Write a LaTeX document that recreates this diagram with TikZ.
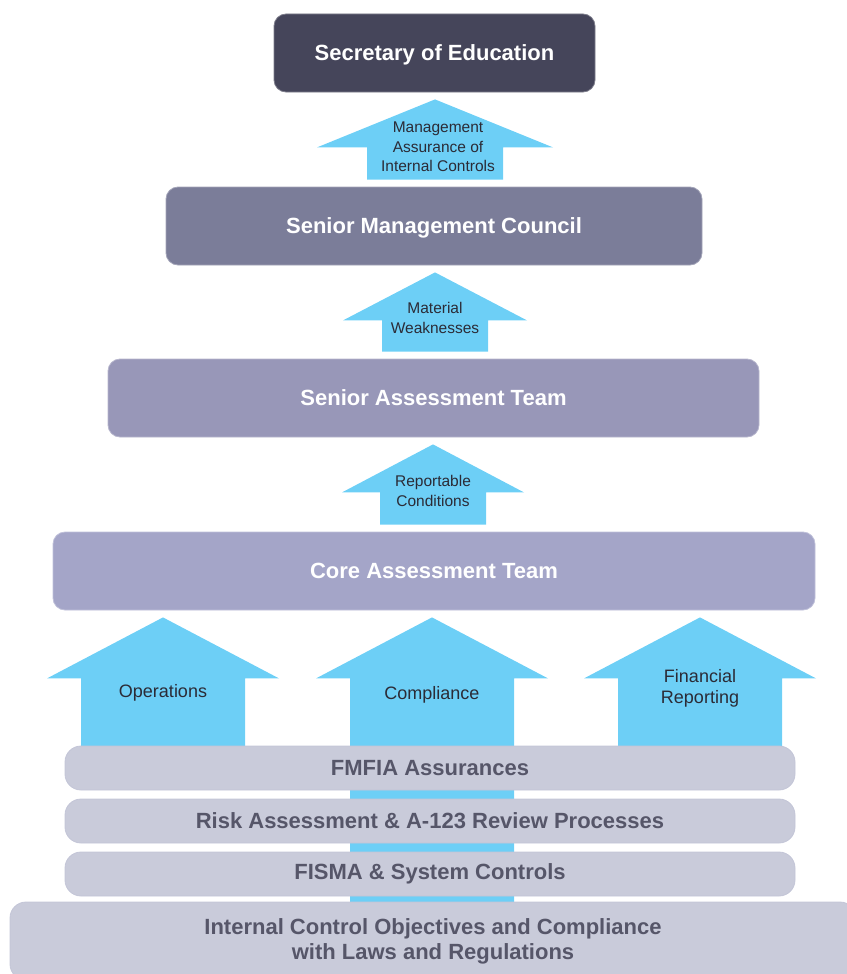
\documentclass[tikz,border=0pt]{standalone}
\usepackage{fontspec}
\setmainfont{Liberation Sans}
\usetikzlibrary{calc}

\definecolor{secfill}{HTML}{45455A}
\definecolor{smcfill}{HTML}{7B7D99}
\definecolor{satfill}{HTML}{9897B8}
\definecolor{catfill}{HTML}{A4A5C8}
\definecolor{barfill}{HTML}{C9CBDA}
\definecolor{bartext}{HTML}{565669}
\definecolor{flowfill}{HTML}{6DCFF6}
\definecolor{labeltext}{HTML}{2B2B36}

\pgfdeclarelayer{background}
\pgfsetlayers{background,main}

\tikzset{
  levelbox/.style={fill=#1, draw=#1!70!white, line width=0.8pt, rounded corners=12pt,
    minimum height=78pt, inner sep=0pt, text=white, text height=16pt, text depth=2pt,
    font=\bfseries\fontsize{22}{26}\selectfont},
  basebar/.style={fill=barfill, draw=barfill!85!catfill, line width=0.8pt, rounded corners=16pt,
    minimum height=44pt, inner sep=0pt, text=bartext, align=center,
    font=\bfseries\fontsize{22}{25}\selectfont},
  flowlabel/.style={text=labeltext, align=center, inner sep=0pt,
    font=\fontsize{15.5}{19.5}\selectfont},
  pillarlabel/.style={flowlabel, font=\fontsize{18}{21}\selectfont},
}

% upward block arrow: x, tip anchor, foot anchor, shaft half width, wing half width, head length
\newcommand{\upblock}[6]{%
  \fill[flowfill] let \p1 = (#2), \p2 = (#3) in
    (#1pt, \y1-7pt) -- (#1pt+#5pt, \y1-#6pt-7pt) -- (#1pt+#4pt, \y1-#6pt-7pt)
    -- (#1pt+#4pt, \y2+7pt) -- (#1pt-#4pt, \y2+7pt)
    -- (#1pt-#4pt, \y1-#6pt-7pt) -- (#1pt-#5pt, \y1-#6pt-7pt) -- cycle;}

\begin{document}
\begin{tikzpicture}[x=1pt, y=-1pt]
  \useasboundingbox (0,0) rectangle (846,974);

  % reporting chain
  \node[levelbox=secfill, minimum width=321pt] (sec) at (434.5,53) {Secretary of Education};
  \node[levelbox=smcfill, minimum width=536pt] (smc) at (434,226) {Senior Management Council};
  \node[levelbox=satfill, minimum width=651pt] (sat) at (433.5,398) {Senior Assessment Team};
  \node[levelbox=catfill, minimum width=762pt] (cat) at (434,571) {Core Assessment Team};

  % foundation layers
  \node[basebar, minimum width=730pt] (fmfia) at (430,768) {FMFIA Assurances};
  \node[basebar, minimum width=730pt] (risk) at (430,821) {Risk Assessment \& A-123 Review Processes};
  \node[basebar, minimum width=730pt] (fisma) at (430,874) {FISMA \& System Controls};
  \node[basebar, minimum width=846pt, minimum height=78pt] (base) at (433,941)
    {Internal Control Objectives and Compliance\\with Laws and Regulations};

  % arrows sit behind the boxes
  \begin{pgfonlayer}{background}
    \upblock{435}{sec.south}{smc.north}{68}{118}{48}
    \upblock{435}{smc.south}{sat.north}{53}{92}{48}
    \upblock{433}{sat.south}{cat.north}{53}{91}{48}
    % the three objectives rise out of the layers
    \upblock{163}{cat.south}{fmfia.center}{82}{116}{61}
    \upblock{432}{cat.south}{base.center}{82}{116}{61}
    \upblock{700}{cat.south}{fmfia.center}{82}{116}{61}
  \end{pgfonlayer}

  \node[flowlabel] (mai) at (438,147) {Management\\Assurance of\\Internal Controls};
  \node[flowlabel] (mw) at (435,318) {Material\\Weaknesses};
  \node[flowlabel] (rc) at (433,491) {Reportable\\Conditions};

  \node[pillarlabel] (ops) at (163,693) {Operations};
  \node[pillarlabel] (comp) at (432,695) {Compliance};
  \node[pillarlabel] (fin) at (700,688) {Financial\\Reporting};
\end{tikzpicture}
\end{document}
